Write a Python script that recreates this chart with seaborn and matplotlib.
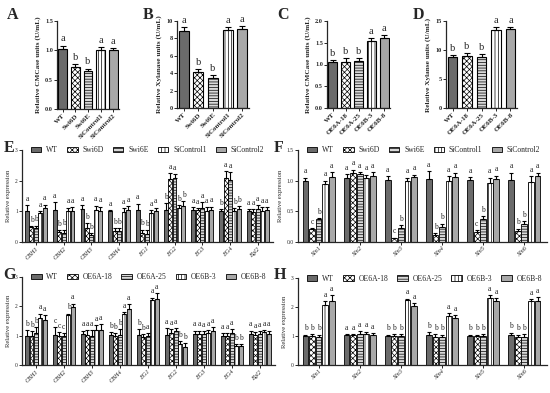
import numpy as np
import pandas as pd
import seaborn as sns
import matplotlib.pyplot as plt
from matplotlib.patches import Patch
from matplotlib.container import BarContainer

sns.set_style('ticks')
plt.rcParams['font.family'] = ['Liberation Serif', 'DejaVu Serif']
plt.rcParams['hatch.linewidth'] = 0.5

# ---- data ----
swi_strains = ['WT', 'Swi6D', 'Swi6E', 'SiControl1', 'SiControl2']
oe_strains = ['WT', 'OE6A-18', 'OE6A-25', 'OE6B-3', 'OE6B-8']
cel_genes = ['CBH1', 'CBH2', 'CBH3', 'CBH4', 'EG1', 'EG2', 'EG3', 'EG4', 'Bgl2']
xln_genes = ['Xln1', 'Xln2', 'Xln3', 'Xln4', 'Xln5', 'Xln6']

a_mean = [1.03, 0.71, 0.64, 1.01, 1.00]
a_err = [0.05, 0.05, 0.05, 0.05, 0.04]
a_let = ['a', 'b', 'b', 'a', 'a']

b_mean = [8.9, 4.1, 3.5, 9.0, 9.1]
b_err = [0.4, 0.4, 0.3, 0.3, 0.35]
b_let = ['a', 'b', 'b', 'a', 'a']

c_mean = [1.05, 1.06, 1.08, 1.55, 1.60]
c_err = [0.06, 0.08, 0.06, 0.05, 0.07]
c_let = ['b', 'b', 'b', 'a', 'a']

d_mean = [8.8, 8.9, 8.8, 13.4, 13.6]
d_err = [0.3, 0.5, 0.5, 0.5, 0.4]
d_let = ['b', 'b', 'b', 'a', 'a']

# rows = genes, columns = strains
e_mean = [[1.02, 0.48, 0.45, 0.95, 1.10], [1.03, 0.33, 0.30, 1.00, 1.00], [1.08, 0.45, 0.23, 1.04, 1.02],
          [1.00, 0.35, 0.35, 0.98, 1.04], [1.03, 0.28, 0.27, 0.95, 1.02], [1.03, 2.05, 2.10, 1.10, 1.18],
          [1.03, 1.03, 1.10, 1.02, 1.05], [1.00, 2.10, 2.02, 1.00, 1.08], [1.00, 0.98, 1.06, 1.02, 1.03]]
e_err = [[0.18, 0.04, 0.08, 0.06, 0.12], [0.28, 0.05, 0.10, 0.12, 0.13], [0.12, 0.17, 0.06, 0.15, 0.13],
         [0.04, 0.10, 0.10, 0.12, 0.12], [0.22, 0.12, 0.12, 0.10, 0.10], [0.24, 0.20, 0.12, 0.10, 0.15],
         [0.10, 0.08, 0.20, 0.12, 0.10], [0.08, 0.22, 0.25, 0.10, 0.08], [0.06, 0.08, 0.14, 0.12, 0.10]]
e_let = [['a', 'b', 'b', 'a', 'a'], ['a', 'b', 'b', 'a', 'a'], ['a', 'b', 'b', 'a', 'a'],
         ['a', 'b', 'b', 'a', 'a'], ['a', 'b', 'b', 'a', 'a'], ['b', 'a', 'a', 'b', 'b'],
         ['a', 'a', 'a', 'a', 'a'], ['b', 'a', 'a', 'b', 'b'], ['a', 'a', 'a', 'a', 'a']]

f_mean = [[1.00, 0.21, 0.37, 0.95, 1.06], [1.04, 1.13, 1.11, 1.04, 1.07], [1.01, 0.06, 0.23, 0.99, 1.06],
          [1.02, 0.12, 0.25, 0.99, 1.06], [1.01, 0.17, 0.37, 0.97, 1.02], [1.01, 0.18, 0.30, 0.98, 1.07]]
f_err = [[0.05, 0.02, 0.02, 0.05, 0.08], [0.07, 0.05, 0.03, 0.06, 0.07], [0.06, 0.01, 0.05, 0.06, 0.04],
         [0.13, 0.02, 0.05, 0.08, 0.07], [0.05, 0.02, 0.05, 0.08, 0.06], [0.12, 0.04, 0.04, 0.09, 0.06]]
f_let = [['a', 'c', 'b', 'a', 'a'], ['a', 'a', 'a', 'a', 'a'], ['a', 'c', 'b', 'a', 'a'],
         ['a', 'b', 'b', 'a', 'a'], ['a', 'c', 'b', 'a', 'a'], ['a', 'b', 'b', 'a', 'a']]

g_mean = [[1.00, 1.00, 1.08, 1.60, 1.55], [1.02, 1.00, 1.00, 1.70, 1.97], [1.05, 1.02, 1.00, 1.20, 1.20],
          [1.02, 0.98, 1.02, 1.75, 1.92], [1.02, 0.95, 1.00, 2.20, 2.25], [1.02, 1.10, 1.15, 0.70, 0.60],
          [1.05, 1.05, 1.05, 1.10, 1.15], [1.00, 1.00, 1.08, 0.65, 0.65], [1.05, 1.02, 1.05, 1.12, 1.05]]
g_err = [[0.18, 0.15, 0.20, 0.15, 0.15], [0.28, 0.12, 0.10, 0.05, 0.12], [0.12, 0.18, 0.18, 0.15, 0.20],
         [0.10, 0.10, 0.20, 0.06, 0.15], [0.20, 0.10, 0.08, 0.10, 0.20], [0.25, 0.12, 0.12, 0.12, 0.15],
         [0.12, 0.12, 0.10, 0.10, 0.15], [0.10, 0.10, 0.15, 0.06, 0.06], [0.12, 0.10, 0.10, 0.08, 0.12]]
g_let = [['b', 'b', 'b', 'a', 'a'], ['c', 'c', 'c', 'b', 'a'], ['a', 'a', 'a', 'a', 'a'],
         ['b', 'b', 'b', 'a', 'a'], ['b', 'b', 'a', 'a', 'a'], ['a', 'a', 'a', 'b', 'b'],
         ['a', 'a', 'a', 'a', 'a'], ['a', 'a', 'a', 'b', 'b'], ['a', 'a', 'a', 'a', 'a']]

h_mean = [[1.00, 1.00, 0.95, 2.08, 2.22], [1.03, 1.03, 1.08, 1.08, 1.02], [1.00, 1.00, 1.00, 2.23, 2.03],
          [1.02, 0.97, 0.97, 1.68, 1.62], [1.00, 1.00, 1.00, 2.30, 2.20], [1.02, 0.95, 0.98, 2.22, 2.22]]
h_err = [[0.05, 0.06, 0.10, 0.12, 0.20], [0.05, 0.05, 0.08, 0.07, 0.08], [0.05, 0.08, 0.08, 0.06, 0.10],
         [0.12, 0.10, 0.08, 0.10, 0.10], [0.05, 0.05, 0.06, 0.10, 0.12], [0.10, 0.10, 0.08, 0.05, 0.12]]
h_let = [['b', 'b', 'b', 'a', 'a'], ['a', 'a', 'a', 'a', 'a'], ['b', 'b', 'b', 'a', 'a'],
         ['b', 'b', 'b', 'a', 'a'], ['b', 'b', 'b', 'a', 'a'], ['b', 'b', 'b', 'a', 'a']]

# ---- style ----
colors = ['#6b6b6b', '#ffffff', '#d9d9d9', '#ffffff', '#a8a8a8']
hatches = ['', 'xxxxxx', '------', '|||||', '']

W, H = 550, 393
fig = plt.figure(figsize=(5.5, 3.93), dpi=100)


def rect(l, t, r, b):
    return [l / W, 1 - b / H, (r - l) / W, (b - t) / H]


def style_axis(ax):
    sns.despine(ax=ax)
    for s in ['left', 'bottom']:
        ax.spines[s].set_linewidth(0.9)
    ax.tick_params(width=0.7, length=2, pad=1)


def add_err(ax, errs, lets, ymax, fs, cap):
    # errs / lets indexed [category][strain]
    conts = [c for c in ax.containers if isinstance(c, BarContainer)]
    for i, cont in enumerate(conts):
        for bar in cont:
            bar.set_hatch(hatches[i])
            x = bar.get_x() + bar.get_width() / 2
            y = bar.get_height()
            j = int(round(x))
            e = errs[j][i]
            ax.errorbar(x, y, yerr=[[0], [e]], fmt='none', ecolor='black',
                        elinewidth=0.8, capsize=cap, capthick=0.8)
            ax.text(x, y + e + ymax * 0.025, lets[j][i], ha='center', va='bottom',
                    fontsize=fs)


def small_panel(rc, strains, mean, err, lets, ymax, yticks, ylabel, fmt):
    ax = fig.add_axes(rect(*rc))
    df = pd.DataFrame({'strain': strains, 'value': mean})
    sns.barplot(data=df, x='strain', y='value', hue='strain', palette=colors,
                saturation=1, edgecolor='black', linewidth=0.8, width=0.68,
                legend=False, ax=ax)
    add_err(ax, [[e] * 5 for e in err], [[l] * 5 for l in lets], ymax, 7.5, 2.5)
    ax.set_ylim(0, ymax)
    ax.set_xlim(-0.45, 4.45)
    ax.set_yticks(yticks)
    ax.set_yticklabels([fmt % v for v in yticks], fontsize=4.5, fontweight='bold')
    ax.set_xticks(range(5))
    ax.set_xticklabels(strains, rotation=45, ha='right', rotation_mode='anchor',
                       fontsize=5, fontweight='bold')
    ax.set_xlabel('')
    ax.set_ylabel(ylabel, fontsize=5.2, fontweight='bold', labelpad=3)
    style_axis(ax)
    return ax


def big_panel(rc, genes, strains, mean, err, lets, ymax, yticks, fmt):
    ax = fig.add_axes(rect(*rc))
    rows = []
    for gi, g in enumerate(genes):
        for si, s in enumerate(strains):
            rows.append({'gene': g, 'strain': s, 'value': mean[gi][si]})
    df = pd.DataFrame(rows)
    sns.barplot(data=df, x='gene', y='value', hue='strain', palette=colors,
                saturation=1, edgecolor='black', linewidth=0.6, width=0.8,
                gap=0.12, legend=False, ax=ax)
    add_err(ax, err, lets, ymax, 5.5, 1.2)
    ax.set_ylim(0, ymax)
    ax.set_xlim(-0.5, len(genes) - 0.45)
    ax.set_yticks(yticks)
    ax.set_yticklabels([fmt % v for v in yticks], fontsize=4)
    ax.set_xticks(range(len(genes)))
    ax.set_xticklabels(genes, rotation=45, ha='right', rotation_mode='anchor',
                       fontsize=4.5, fontstyle='italic')
    ax.set_xlabel('')
    ax.set_ylabel('Relative expression', fontsize=4.8, labelpad=3)
    handles = [Patch(facecolor=colors[i], edgecolor='black', hatch=hatches[i],
                     linewidth=0.6, label=s) for i, s in enumerate(strains)]
    ax.legend(handles=handles, ncol=5, loc='upper left', bbox_to_anchor=(0.035, 1.04),
              frameon=False, fontsize=5.5, handlelength=1.4, handleheight=0.7,
              columnspacing=1.2, handletextpad=0.6, borderpad=0, borderaxespad=0)
    style_axis(ax)
    return ax


small_panel((57, 21, 119, 109), swi_strains, a_mean, a_err, a_let, 1.5,
            [0, 0.5, 1.0, 1.5], 'Relative CMCase units (U/mL)', '%.1f')
small_panel((177, 21, 249, 108), swi_strains, b_mean, b_err, b_let, 10,
            [0, 2, 4, 6, 8, 10], 'Relative Xylanase units (U/mL)', '%d')
small_panel((327, 21, 390, 108), oe_strains, c_mean, c_err, c_let, 2.0,
            [0, 0.5, 1.0, 1.5, 2.0], 'Relative CMCase units (U/mL)', '%.1f')
small_panel((446, 21, 517, 108), oe_strains, d_mean, d_err, d_let, 15,
            [0, 5, 10, 15], 'Relative Xylanse units (U/mL)', '%d')

big_panel((22, 150, 273, 242), cel_genes, swi_strains, e_mean, e_err, e_let, 3,
          [0, 1, 2, 3], '%d')
big_panel((298, 150, 547, 242), xln_genes, swi_strains, f_mean, f_err, f_let, 1.5,
          [0, 0.5, 1.0, 1.5], '%.1f')
big_panel((22, 277, 275, 365), cel_genes, oe_strains, g_mean, g_err, g_let, 3,
          [0, 1, 2, 3], '%d')
big_panel((298, 278, 547, 365), xln_genes, oe_strains, h_mean, h_err, h_let, 3,
          [0, 1, 2, 3], '%d')

for lab, x, y in [('A', 13, 15), ('B', 148, 15), ('C', 283, 15), ('D', 418, 15),
                  ('E', 9, 148), ('F', 279, 148), ('G', 9, 275), ('H', 280, 275)]:
    fig.text(x / W, 1 - y / H, lab, fontsize=11.5, fontweight='bold',
             ha='center', va='center')

fig.savefig('out.png', dpi=100)
